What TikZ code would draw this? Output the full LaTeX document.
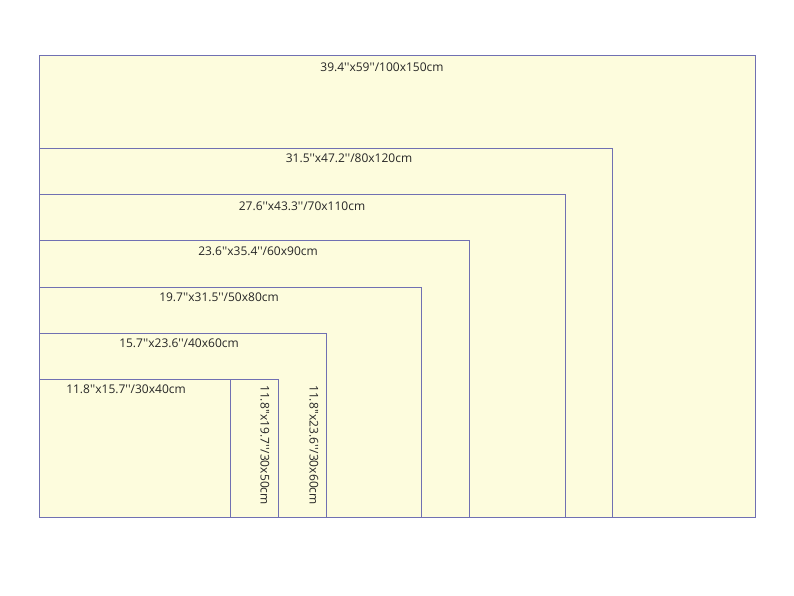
\documentclass[tikz,border=0pt]{standalone}
\usepackage{fontspec}
\setmainfont{Open Sans}
\newcommand{\ii}{\textquotesingle\textquotesingle}
\begin{document}
\begin{tikzpicture}[x=1pt,y=-1pt,
  panel/.style={draw=frameblue,fill=paper,line width=1.1pt},
  lbl/.style={font=\fontsize{12}{14}\selectfont,text=black!85,inner sep=0pt}]
\definecolor{frameblue}{HTML}{7070B2}
\definecolor{paper}{HTML}{FDFCDD}
\useasboundingbox (0,0) rectangle (794,596);
\draw[panel] (39.5,517.5) rectangle (755.5,55.5);
\draw[panel] (39.5,517.5) rectangle (612.5,148.5);
\draw[panel] (39.5,517.5) rectangle (565.5,194.5);
\draw[panel] (39.5,517.5) rectangle (469.5,240.5);
\draw[panel] (39.5,517.5) rectangle (421.5,287.5);
\draw[panel] (39.5,517.5) rectangle (326.5,333.5);
\draw[panel] (39.5,517.5) rectangle (278.5,379.5);
\draw[panel] (39.5,517.5) rectangle (230.5,379.5);
\node[lbl] (l1) at (382,67) {39.4\ii x59\ii/100x150cm};
\node[lbl] (l2) at (349,158) {31.5\ii x47.2\ii/80x120cm};
\node[lbl] (l3) at (302,206) {27.6\ii x43.3\ii/70x110cm};
\node[lbl] (l4) at (258,251) {23.6\ii x35.4\ii/60x90cm};
\node[lbl] (l5) at (219,297) {19.7\ii x31.5\ii/50x80cm};
\node[lbl] (l6) at (179,343) {15.7\ii x23.6\ii/40x60cm};
\node[lbl] (l7) at (126,389) {11.8\ii x15.7\ii/30x40cm};
\node[lbl,rotate=-90] (l8) at (265,445) {11.8\ii x19.7\ii/30x50cm};
\node[lbl,rotate=-90] (l9) at (314,445) {11.8\ii x23.6\ii/30x60cm};
\end{tikzpicture}
\end{document}
